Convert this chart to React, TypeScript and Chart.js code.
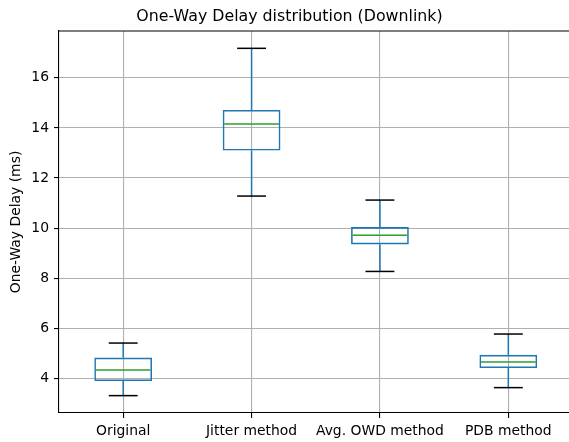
import React, { useEffect, useRef } from 'react';
import { Chart, registerables } from 'chart.js';

Chart.register(...registerables);

const categories = ['Original', 'Jitter method', 'Avg. OWD method', 'PDB method'];
const whiskerLow = [3.31, 11.28, 8.27, 3.63];
const q1 = [3.89, 13.1, 9.35, 4.41];
const median = [4.33, 14.16, 9.72, 4.65];
const q3 = [4.83, 14.72, 10.04, 4.94];
const whiskerHigh = [5.41, 17.18, 11.12, 5.77];
const yTicks = [4, 6, 8, 10, 12, 14, 16];

const BOX_W = 0.45;
const CAP_W = 0.225;
const FONT = 'DejaVu Sans';

const boxPlugin = {
  id: 'boxExtras',
  afterDatasetsDraw(chart: any) {
    const { ctx, chartArea, scales } = chart;
    const x = scales.x;
    const y = scales.y;
    const line = (x1: number, y1: number, x2: number, y2: number) => {
      ctx.beginPath();
      ctx.moveTo(x1, y1);
      ctx.lineTo(x2, y2);
      ctx.stroke();
    };
    ctx.save();
    ctx.lineWidth = 1.5;
    categories.forEach((_, i) => {
      const c = i + 1;
      const cx = x.getPixelForValue(c);
      const capL = x.getPixelForValue(c - CAP_W / 2);
      const capR = x.getPixelForValue(c + CAP_W / 2);
      const boxL = x.getPixelForValue(c - BOX_W / 2);
      const boxR = x.getPixelForValue(c + BOX_W / 2);
      ctx.strokeStyle = '#1f77b4';
      line(cx, y.getPixelForValue(q3[i]), cx, y.getPixelForValue(whiskerHigh[i]));
      line(cx, y.getPixelForValue(whiskerLow[i]), cx, y.getPixelForValue(q1[i]));
      ctx.strokeStyle = '#000';
      line(capL, y.getPixelForValue(whiskerHigh[i]), capR, y.getPixelForValue(whiskerHigh[i]));
      line(capL, y.getPixelForValue(whiskerLow[i]), capR, y.getPixelForValue(whiskerLow[i]));
      ctx.strokeStyle = '#2ca02c';
      line(boxL + 1.5, y.getPixelForValue(median[i]), boxR - 1.5, y.getPixelForValue(median[i]));
    });
    ctx.strokeStyle = '#000';
    ctx.lineWidth = 1.1;
    line(chartArea.left, chartArea.top, chartArea.right + 5, chartArea.top);
    ctx.restore();
  },
};

export default function App() {
  const ref = useRef<HTMLCanvasElement>(null);

  useEffect(() => {
    if (!ref.current) return;
    const lo = Math.min(...whiskerLow);
    const hi = Math.max(...whiskerHigh);
    const margin = (hi - lo) * 0.05;
    const tickFont = { family: FONT, size: 13.9 };
    const chart = new Chart(ref.current, {
      type: 'bar',
      data: {
        datasets: [
          {
            data: categories.map((_, i) => ({ x: i + 1, y: [q1[i], q3[i]] })) as any,
            backgroundColor: 'rgba(0,0,0,0)',
            borderColor: '#1f77b4',
            borderWidth: 1.6,
            borderSkipped: false,
            barPercentage: BOX_W,
            categoryPercentage: 1,
          },
        ],
      },
      options: {
        responsive: false,
        animation: false,
        events: [],
        layout: { padding: { left: 6.5, right: 2.5, top: 0, bottom: 0 } },
        plugins: {
          legend: { display: false },
          tooltip: { enabled: false },
          title: {
            display: true,
            text: 'One-Way Delay distribution (Downlink)',
            color: '#000',
            font: { family: FONT, size: 15.8, weight: 'normal' },
            padding: { top: 7, bottom: 5 },
          },
        },
        scales: {
          x: {
            type: 'linear',
            min: 0.5,
            max: 4.5,
            offset: false,
            afterBuildTicks: (s: any) => {
              s.ticks = categories.map((_, i) => ({ value: i + 1 }));
            },
            afterFit: (s: any) => {
              s.height = 29;
            },
            ticks: {
              callback: (v: any) => categories[Number(v) - 1] ?? '',
              color: '#000',
              font: tickFont,
              padding: 5,
              maxRotation: 0,
              autoSkip: false,
            },
            grid: {
              offset: false,
              color: '#b0b0b0',
              lineWidth: 1.1,
              tickColor: '#000',
              tickLength: 5,
              tickWidth: 1.1,
            },
            border: { display: true, color: '#000', width: 1.1 },
          },
          y: {
            type: 'linear',
            min: lo - margin,
            max: hi + margin,
            afterBuildTicks: (s: any) => {
              s.ticks = yTicks.map((v) => ({ value: v }));
            },
            afterFit: (s: any) => {
              s.width = 52.5;
            },
            ticks: {
              color: '#000',
              font: tickFont,
              padding: 5,
            },
            grid: {
              color: '#b0b0b0',
              lineWidth: 1.1,
              tickColor: '#000',
              tickLength: 5,
              tickWidth: 1.1,
            },
            border: { display: true, color: '#000', width: 1.1 },
            title: {
              display: true,
              text: 'One-Way Delay (ms)',
              color: '#000',
              font: { family: FONT, size: 13.9 },
              padding: { top: 2, bottom: 0 },
            },
          },
        },
      },
      plugins: [boxPlugin],
    });
    return () => chart.destroy();
  }, []);

  return (
    <div
      style={{
        position: 'fixed',
        left: 0,
        top: 0,
        width: 569,
        height: 442,
        overflow: 'hidden',
        background: '#fff',
      }}
    >
      <canvas ref={ref} width={575} height={442} style={{ display: 'block' }} />
    </div>
  );
}
